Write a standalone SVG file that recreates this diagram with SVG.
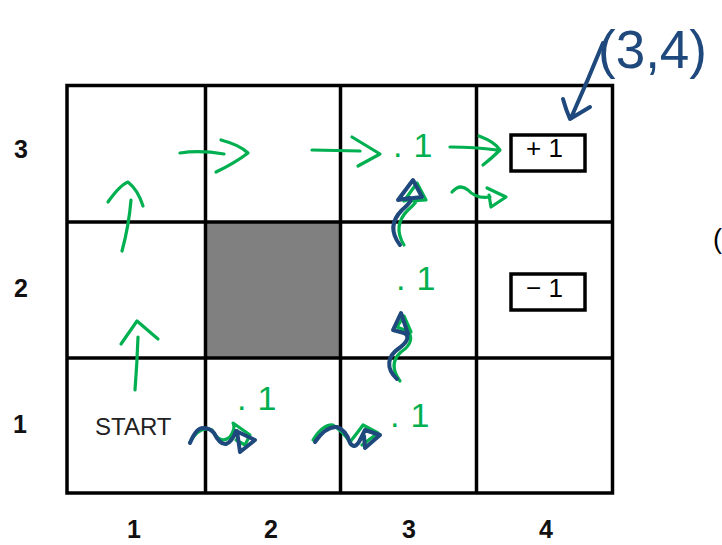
<svg xmlns="http://www.w3.org/2000/svg" width="722" height="545" viewBox="0 0 722 545">
<style>
.grid{fill:none;stroke:#000;stroke-width:3.5}
.lbl{font-family:"Liberation Sans",Arial,sans-serif;font-size:25px;font-weight:bold;fill:#111;text-anchor:middle}
.box{fill:#fff;stroke:#000;stroke-width:3.5}
.btxt{font-family:"Liberation Sans",Arial,sans-serif;font-size:26px;fill:#000}
.g{fill:none;stroke:#00B050;stroke-width:3.2;stroke-linecap:round;stroke-linejoin:round}
.b{fill:none;stroke:#1F497D;stroke-width:4;stroke-linecap:round;stroke-linejoin:round}
.gt{font-family:"Liberation Sans",Arial,sans-serif;font-size:34px;fill:#00B050;letter-spacing:11px}
</style>
<rect width="722" height="545" fill="#fff"/>
<g id="wall"><rect x="206" y="222" width="134" height="136" fill="#808080"/></g>
<g id="grid">
<rect class="grid" x="67" y="85.5" width="545.5" height="407.5"/>
<line class="grid" x1="205.5" y1="85.5" x2="205.5" y2="493"/>
<line class="grid" x1="340.5" y1="85.5" x2="340.5" y2="493"/>
<line class="grid" x1="476.5" y1="85.5" x2="476.5" y2="493"/>
<line class="grid" x1="67" y1="222" x2="612.5" y2="222"/>
<line class="grid" x1="67" y1="358" x2="612.5" y2="358"/>
</g>
<g id="reward-plus"><rect class="box" x="511" y="135" width="74" height="36"/><text class="btxt" x="526" y="157">+ 1</text></g>
<g id="reward-minus"><rect class="box" x="511" y="274" width="74" height="36"/><text class="btxt" x="526" y="297">− 1</text></g>
<g id="start"><text x="95" y="435" font-family="'Liberation Sans',Arial,sans-serif" font-size="24" fill="#222">START</text></g>
<g id="axis-labels">
<text class="lbl" x="21" y="158">3</text>
<text class="lbl" x="21" y="297">2</text>
<text class="lbl" x="20" y="433">1</text>
<text class="lbl" x="134" y="538">1</text>
<text class="lbl" x="271" y="538">2</text>
<text class="lbl" x="409" y="538">3</text>
<text class="lbl" x="546" y="538">4</text>
<text x="713" y="248" font-family="'Liberation Sans',Arial,sans-serif" font-size="27" fill="#000">(</text>
</g>
<g id="connectors">
<path class="g" d="M135,390 Q137,365 138,337 M121,344 L137,321 L158,339"/>
<path class="g" d="M122,251 Q129,225 131,200 M108,202 Q120,185 128,182 Q138,190 143,206"/>
<path class="g" d="M180,153 Q200,150 224,154 M221,140 Q240,145 248,153 Q235,163 216,172"/>
<path class="g" d="M312,150 L360,151 M352,137 L380,154 L358,166"/>
<path class="g" d="M450,147 Q475,147 497,150 M479,136 Q495,142 500,150 Q492,158 483,165"/>
<path class="g" d="M452,192 Q460,183 468,190 Q476,199 490,197 M487,188 L506,197 L491,207 L489,195"/>
<path class="g" d="M404,245 C396,232 398,220 408,210 C416,203 418,200 416,198 L404,201 L417,183 L426,200 L410,201"/>
<path class="g" d="M400,381 C392,370 392,360 401,352 C412,345 413,336 407,331 L397,327 L404,316 L411,332"/>
<path class="g" d="M190,442 Q200,425 212,430 Q220,445 230,437 Q236,428 233,423 L250,435 L245,445 L236,440"/>
<path class="g" d="M313,440 Q323,424 333,425 Q343,432 350,442 Q358,432 363,425 L378,433 L362,445"/>
<path class="b" d="M190,443 Q196,428 203,428 Q210,428 214,433 Q220,445 226,444 Q232,442 236,431 L255,440 L240,452 L237,431"/>
<path class="b" d="M315,442 Q326,426 337,427 Q346,430 350,443 Q355,450 360,440 L365,430 L380,435 L365,448 L364,436"/>
<path class="b" d="M400,245 C390,232 392,220 402,210 C410,203 412,200 410,198 L398,200 L413,180 L422,197 L405,199"/>
<path class="b" d="M397,379 C385,368 388,356 398,349 C408,342 410,336 404,333 L393,330 L401,313 L408,334"/>
<path class="b" d="M603,43 Q588,80 571,118 M563,99 Q566,110 570,119 Q580,113 590,107"/>
</g>
<g id="annotations">
<text class="gt" x="393" y="157">.1</text>
<text class="gt" x="396" y="290">.1</text>
<text class="gt" x="390" y="427">.1</text>
<text class="gt" x="237" y="410">.1</text>
<text x="598" y="68" font-family="'Liberation Sans',Arial,sans-serif" font-size="53" fill="#1F497D">(3,4)</text>
</g>
</svg>
